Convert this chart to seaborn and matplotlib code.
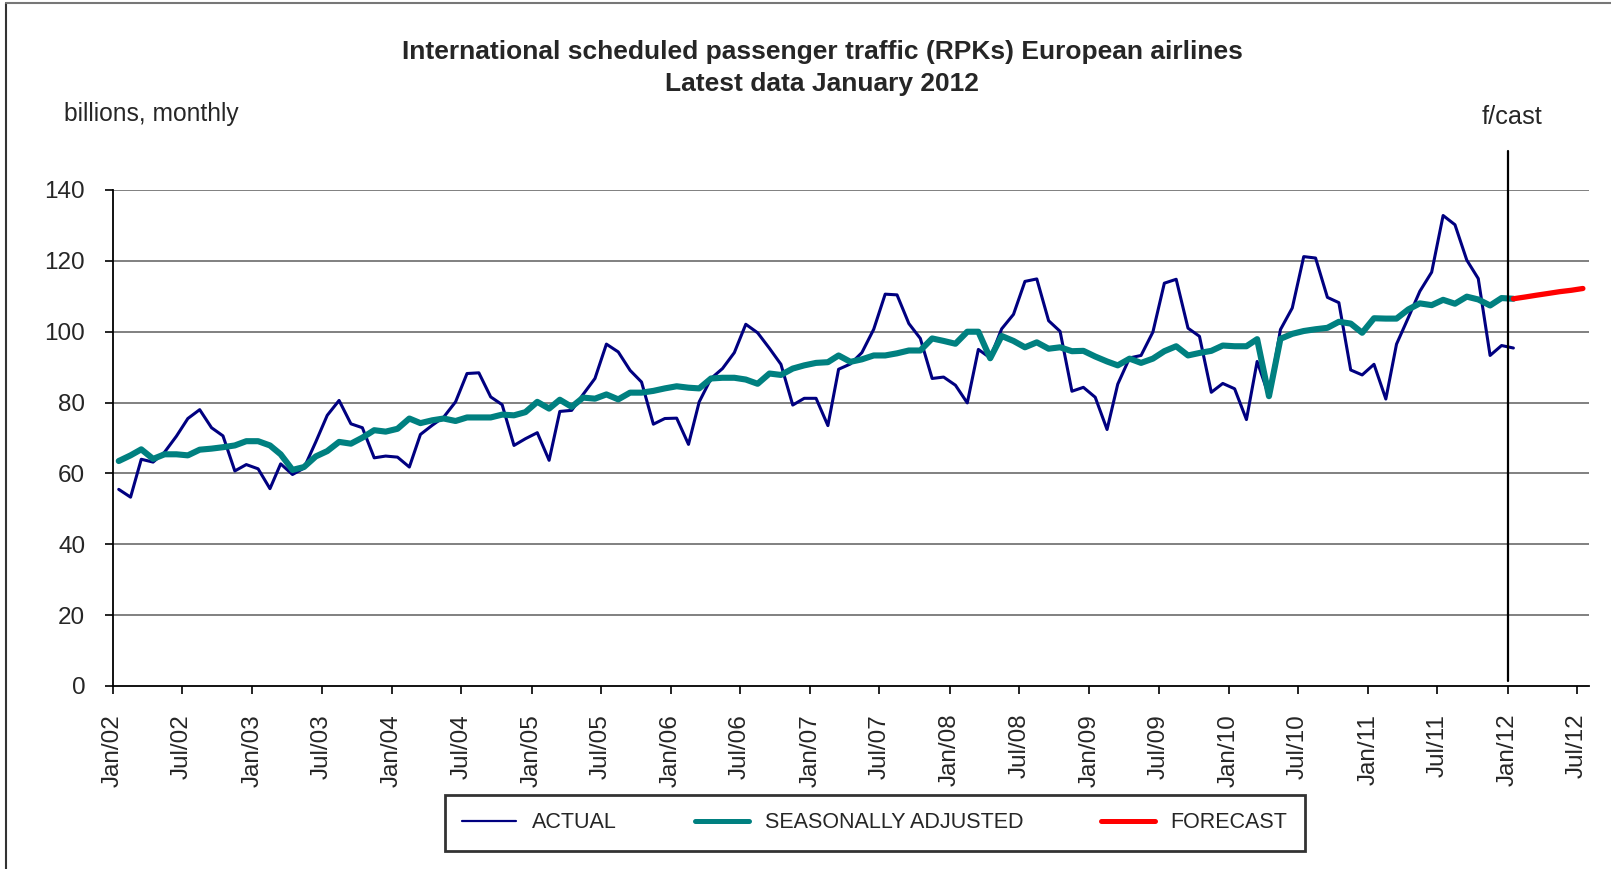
import numpy as np
import pandas as pd
import seaborn as sns
import matplotlib.pyplot as plt
import matplotlib.dates as mdates
from matplotlib.lines import Line2D

# monthly values, Jan 2002 .. Jan 2012 (billions RPKs)
actual = [
    55.5, 53.3, 64.0, 63.2, 66.0, 70.5, 75.5, 78.0, 72.9, 70.6, 60.7, 62.5,
    61.3, 55.7, 62.7, 59.7, 61.5, 68.9, 76.4, 80.6, 74.0, 72.9, 64.4, 64.9,
    64.6, 61.8, 71.0, 73.6, 75.9, 80.2, 88.2, 88.4, 81.6, 79.4, 67.9, 69.8,
    71.5, 63.7, 77.5, 77.8, 82.3, 86.8, 96.5, 94.3, 89.1, 85.8, 73.9, 75.5,
    75.6, 68.2, 80.2, 86.8, 89.6, 94.1, 102.1, 99.7, 95.3, 90.8, 79.3, 81.2,
    81.2, 73.5, 89.4, 90.9, 94.1, 100.7, 110.6, 110.4, 102.3, 98.1, 86.8, 87.2,
    84.9, 79.9, 95.0, 92.6, 100.8, 104.9, 114.2, 114.9, 103.1, 100.1, 83.2, 84.3,
    81.5, 72.4, 85.2, 92.6, 93.3, 99.9, 113.7, 114.8, 101.0, 98.7, 82.9, 85.4,
    83.9, 75.2, 91.6, 81.8, 100.6, 106.7, 121.2, 120.8, 109.7, 108.2, 89.2, 87.8,
    90.8, 81.0, 96.5, 104.0, 111.4, 116.8, 132.8, 130.2, 120.2, 115.0, 93.3, 96.1,
    95.4,
]
seas_adj = [
    63.5, 65.1, 66.8, 64.1, 65.4, 65.4, 65.1, 66.7, 67.0, 67.4, 67.9, 69.1,
    69.1, 67.9, 65.4, 61.0, 61.8, 64.8, 66.3, 68.9, 68.4, 70.1, 72.2, 71.8,
    72.6, 75.5, 74.2, 75.0, 75.5, 74.8, 75.8, 75.8, 75.8, 76.6, 76.4, 77.3,
    80.2, 78.3, 80.8, 78.8, 81.4, 81.1, 82.3, 80.9, 82.8, 82.8, 83.3, 84.0,
    84.6, 84.2, 84.0, 86.8, 87.0, 87.0, 86.5, 85.3, 88.2, 87.8, 89.6, 90.5,
    91.2, 91.4, 93.3, 91.5, 92.2, 93.3, 93.3, 93.9, 94.7, 94.7, 98.1, 97.4,
    96.6, 100.0, 100.0, 92.5, 98.8, 97.4, 95.6, 97.0, 95.2, 95.6, 94.5, 94.6,
    93.0, 91.6, 90.5, 92.4, 91.2, 92.4, 94.5, 95.9, 93.3, 94.0, 94.6, 96.1,
    95.9, 95.9, 97.9, 81.8, 98.0, 99.4, 100.2, 100.7, 101.1, 102.8, 102.3, 99.7,
    103.8, 103.7, 103.7, 106.3, 108.0, 107.5, 109.0, 107.9, 109.9, 109.1, 107.4, 109.5,
    109.3,
]
# Jan 2012 .. Jul 2012
forecast = [109.3, 109.8, 110.3, 110.8, 111.3, 111.7, 112.2]

# Excel plots the points in the middle of each month
hist = pd.DataFrame({
    "date": pd.date_range("2002-01-01", periods=len(actual), freq="MS") + pd.Timedelta(days=15),
    "actual": actual,
    "sa": seas_adj,
})
fc = pd.DataFrame({
    "date": pd.date_range("2012-01-01", periods=len(forecast), freq="MS") + pd.Timedelta(days=15),
    "forecast": forecast,
})

sns.set_style("white")
plt.rcParams["font.family"] = ["Liberation Sans", "DejaVu Sans"]

W, H = 1611, 869
fig = plt.figure(figsize=(W / 100, H / 100), dpi=100)
ax = fig.add_axes([113 / W, 1 - 686 / H, (1589 - 113) / W, (686 - 190) / H])

sns.lineplot(data=hist, x="date", y="actual", ax=ax, color="#000080", linewidth=2.2, label="ACTUAL")
sns.lineplot(data=hist, x="date", y="sa", ax=ax, color="#008080", linewidth=4.4, label="SEASONALLY ADJUSTED")
sns.lineplot(data=fc, x="date", y="forecast", ax=ax, color="#FF0000", linewidth=3.8, label="FORECAST")

ax.set_xlim(pd.Timestamp("2002-01-01"), pd.Timestamp("2012-08-01"))
ax.set_ylim(0, 140)
ax.set_yticks(range(0, 141, 20))
ax.xaxis.set_major_locator(mdates.MonthLocator(bymonth=[1, 7]))
ax.xaxis.set_major_formatter(mdates.DateFormatter("%b/%y"))
ax.set_xlabel("")
ax.set_ylabel("")

for v in range(20, 141, 20):
    ax.axhline(v, color="#808080", linewidth=1.4, zorder=0)

for s in ["top", "right"]:
    ax.spines[s].set_visible(False)
for s in ["left", "bottom"]:
    ax.spines[s].set_color("black")
    ax.spines[s].set_linewidth(1.3)

ax.tick_params(axis="both", which="major", direction="out", length=6, width=1.2,
               color="black", labelsize=17.5, pad=14, left=True, bottom=True)
plt.setp(ax.get_xticklabels(), rotation=90, va="top", ha="center")

# forecast divider at Jan/12
ax.plot([pd.Timestamp("2012-01-01")] * 2, [1.5, 151], color="black", linewidth=1.6, clip_on=False)

fig.text(822 / W, 1 - 52 / H, "International scheduled passenger traffic (RPKs) European airlines",
         ha="center", va="center", fontsize=19, fontweight="bold")
fig.text(822 / W, 1 - 84 / H, "Latest data January 2012",
         ha="center", va="center", fontsize=19, fontweight="bold")
fig.text(64 / W, 1 - 114 / H, "billions, monthly", ha="left", va="center", fontsize=17.7)
fig.text(1512 / W, 1 - 117 / H, "f/cast", ha="center", va="center", fontsize=18.3)

ax.get_legend().remove()
handles = [
    Line2D([], [], color="#000080", linewidth=1.6),
    Line2D([], [], color="#008080", linewidth=3.6),
    Line2D([], [], color="#FF0000", linewidth=3.6),
]
leg = fig.legend(handles, ["ACTUAL", "SEASONALLY ADJUSTED", "FORECAST"], ncol=3,
                 loc="center", bbox_to_anchor=(875 / W, 1 - 823 / H), fontsize=15.5,
                 frameon=True, fancybox=False, edgecolor="black", handlelength=2.5,
                 handletextpad=0.75, columnspacing=3.6, borderpad=0.8)
leg.get_frame().set_linewidth(2)

# chart area border
fig.add_artist(Line2D([6 / W, 6 / W], [0, 1 - 3 / H], color="#333333", linewidth=1.5))
fig.add_artist(Line2D([6 / W, 1], [1 - 3 / H, 1 - 3 / H], color="#777777", linewidth=1.5))

fig.savefig("out.png", dpi=100)
